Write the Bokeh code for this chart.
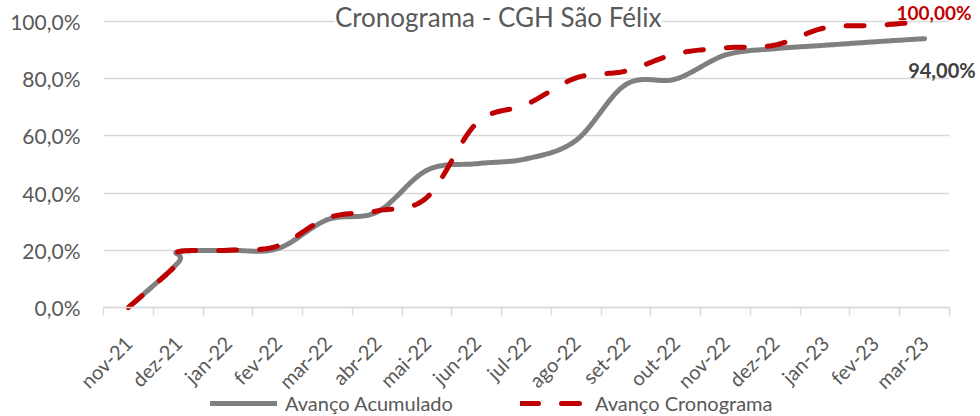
import numpy as np
from bokeh.plotting import figure
from bokeh.models import (Range1d, FixedTicker, Label, Legend, LegendItem,
                          BoxAnnotation)
from bokeh.embed import file_html
from bokeh.resources import INLINE

# ---- data ----
months = ["nov-21", "dez-21", "jan-22", "fev-22", "mar-22", "abr-22", "mai-22",
          "jun-22", "jul-22", "ago-22", "set-22", "out-22", "nov-22", "dez-22",
          "jan-23", "fev-23", "mar-23"]

# month index of each reading (dez-21 holds two readings)
acum_month = [0, 1, 1, 2, 3, 4, 5, 6, 7, 8, 9, 10, 11, 12, 13, 14, 15, 16]
acum_pct = [0.0, 15.7, 19.5, 20.0, 20.6, 30.7, 33.4, 48.0, 50.3, 52.0, 58.5,
            78.0, 79.9, 88.3, 90.5, 91.7, 92.9, 94.0]

crono_month = [0, 1, 1, 2, 3, 4, 5, 6, 7, 8, 9, 10, 11, 12, 13, 14, 15, 16]
crono_pct = [0.0, 15.5, 19.5, 20.0, 21.5, 31.3, 33.8, 38.5, 64.5, 71.0, 80.3,
             82.7, 88.7, 90.8, 91.8, 97.8, 98.6, 100.0]

y_ticks = [0, 20, 40, 60, 80, 100]
y_tick_labels = ["0,0%", "20,0%", "40,0%", "60,0%", "80,0%", "100,0%"]

title_text = "Cronograma - CGH São Félix"
acum_label = "94,00%"
crono_label = "100,00%"
series_names = ["Avanço Acumulado", "Avanço Cronograma"]

GRAY = "#808080"
RED = "#c00000"
TXT = "#595959"
GRID = "#d9d9d9"
FONT = "Lato"
DASH = "18 23"


def smooth(xs, ys, n=24):
    """Excel-like smoothed line (Catmull-Rom style cubic Bezier between readings)."""
    px = np.asarray(xs, float)
    py = np.asarray(ys, float)
    m = len(px)
    ox, oy = [px[0]], [py[0]]
    t = np.linspace(0, 1, n + 1)[1:]
    for i in range(m - 1):
        a = i - 1 if i > 0 else i
        d = i + 2 if i + 2 < m else i + 1
        c1x = px[i] + (px[i + 1] - px[a]) / 6
        c1y = py[i] + (py[i + 1] - py[a]) / 6
        c2x = px[i + 1] - (px[d] - px[i]) / 6
        c2y = py[i + 1] - (py[d] - py[i]) / 6
        bx = (1 - t) ** 3 * px[i] + 3 * (1 - t) ** 2 * t * c1x + 3 * (1 - t) * t ** 2 * c2x + t ** 3 * px[i + 1]
        by = (1 - t) ** 3 * py[i] + 3 * (1 - t) ** 2 * t * c1y + 3 * (1 - t) * t ** 2 * c2y + t ** 3 * py[i + 1]
        ox.extend(bx.tolist())
        oy.extend(by.tolist())
    return ox, oy


# ---- geometry: plot area x 103..949 px, 100 % at y=21 px, 0 % at y=307 px ----
W, H = 980, 416
PX_X = (949 - 103) / len(months)          # px per month
PX_Y = (307 - 21) / 100.0                 # px per percent
x_lo = -0.5 - 103 / PX_X
x_hi = len(months) - 0.5 + (W - 949) / PX_X
y_lo = -(H - 307) / PX_Y
y_hi = 100 + 21 / PX_Y

p = figure(width=W, height=H, output_backend="svg", toolbar_location=None,
           title=None, x_range=Range1d(x_lo, x_hi), y_range=Range1d(y_lo, y_hi),
           min_border_left=0, min_border_right=0, min_border_top=0,
           min_border_bottom=0)
p.outline_line_color = None
p.background_fill_color = "white"
p.border_fill_color = "white"

# x axis on the 0 % line: ticks between categories, labels at centres
xa = p.xaxis[0]
xa.fixed_location = 0
xa.bounds = (-0.5, len(months) - 0.5)
xa.ticker = FixedTicker(ticks=list(range(len(months))),
                        minor_ticks=[i - 0.5 for i in range(len(months) + 1)])
xa.major_label_overrides = {i: m for i, m in enumerate(months)}
xa.major_label_orientation = np.pi / 4
xa.major_tick_line_color = None
xa.major_tick_out = 0
xa.major_tick_in = 0
xa.minor_tick_line_color = GRID
xa.minor_tick_line_width = 1.5
xa.minor_tick_out = 8
xa.minor_tick_in = 0
xa.axis_line_color = GRID
xa.axis_line_width = 1.5
xa.major_label_standoff = 24
xa.major_label_text_font = FONT
xa.major_label_text_font_size = "20px"
xa.major_label_text_color = TXT

ya = p.yaxis[0]
ya.fixed_location = -0.5
ya.bounds = (0, 100)
ya.ticker = FixedTicker(ticks=y_ticks)
ya.major_label_overrides = {v: s for v, s in zip(y_ticks, y_tick_labels)}
ya.axis_line_color = None
ya.major_tick_line_color = None
ya.minor_tick_line_color = None
ya.major_tick_out = 0
ya.major_tick_in = 0
ya.major_label_standoff = 23
ya.major_label_text_font = FONT
ya.major_label_text_font_size = "21px"
ya.major_label_text_color = TXT

p.xgrid.visible = False
p.ygrid.ticker = FixedTicker(ticks=y_ticks)
p.ygrid.grid_line_color = GRID
p.ygrid.grid_line_width = 1.5

# keep the horizontal grid lines inside the category span
for side in ({"right": -0.5}, {"left": len(months) - 0.5}):
    p.add_layout(BoxAnnotation(fill_color="white", fill_alpha=1.0,
                               line_color=None, level="underlay", **side))

ax, ay = smooth(acum_month, acum_pct)
cx, cy = smooth(crono_month, crono_pct)

r_acum = p.line(ax, ay, line_color=GRAY, line_width=5, line_cap="round",
                line_join="round")
r_crono = p.line(cx, cy, line_color=RED, line_width=5, line_cap="round",
                 line_join="round", line_dash=DASH)

# title and value labels (vertically centred on the given point)
p.add_layout(Label(x=7.43, y=100, y_offset=21 - 16.5, text=title_text,
                   text_align="center", text_baseline="middle", text_font=FONT,
                   text_font_size="26px", text_color=TXT,
                   background_fill_color="white"))
p.add_layout(Label(x=acum_month[-1], y=acum_pct[-1], x_offset=51, y_offset=-31,
                   text=acum_label, text_align="right", text_baseline="middle",
                   text_font=FONT, text_font_size="20px", text_font_style="bold",
                   text_color="#404040"))
p.add_layout(Label(x=crono_month[-1], y=crono_pct[-1], x_offset=47, y_offset=9,
                   text=crono_label, text_align="right", text_baseline="middle",
                   text_font=FONT, text_font_size="19px", text_font_style="bold",
                   text_color=RED))

# legend at the bottom
leg = Legend(items=[LegendItem(label=series_names[0], renderers=[r_acum]),
                    LegendItem(label=series_names[1], renderers=[r_crono])],
             location=(210, 1), orientation="horizontal", glyph_width=67,
             glyph_height=24, label_height=24, label_standoff=8, spacing=67,
             padding=0, margin=0, border_line_color=None,
             background_fill_alpha=0, label_text_font=FONT,
             label_text_font_size="20px", label_text_color=TXT)
p.add_layout(leg)

open("out.html", "w").write(file_html(p, INLINE))
